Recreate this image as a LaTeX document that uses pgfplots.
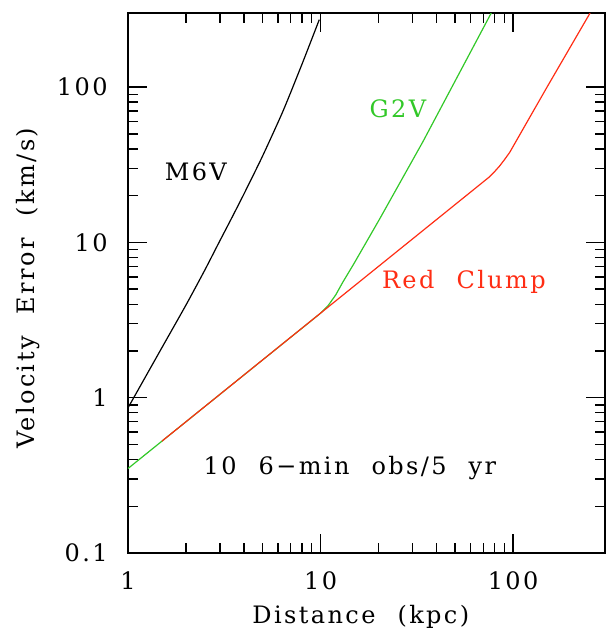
\documentclass[12pt,border=0pt]{standalone}
\usepackage{pgfplots}
\pgfplotsset{compat=1.18}
\usepackage{fontspec}
\setmainfont[LetterSpace=10,WordSpace=2.2]{DejaVu Serif}
\definecolor{cgreen}{RGB}{50,200,40}
\definecolor{cred}{RGB}{255,45,20}
\begin{document}
\begin{tikzpicture}
\begin{axis}[
  name=ax, at={(0,0)}, anchor=south west,
  scale only axis, width=238.5pt, height=270pt,
  xmode=log, ymode=log,
  xmin=1, xmax=300, ymin=0.1, ymax=300,
  log ticks with fixed point,
  /pgf/number format/assume math mode=true,
  major tick length=9.5pt, minor tick length=5pt,
  tick align=inside,
  tick style={black, line width=0.7pt},
  axis line style={line width=0.75pt},
  yticklabel style={xshift=-6pt},
  xticklabel style={yshift=-5pt},
  xlabel={Distance (kpc)},
  ylabel={Velocity Error (km/s)},
  xlabel style={at={(axis description cs:0.488,0)}, anchor=base, yshift=-35pt},
  ylabel style={at={(axis description cs:-0.2096,0.49)}, anchor=center},
]
\addplot[black, line width=0.6pt, smooth, tension=0.4] coordinates {
(1,0.86) (1.5,2.1) (2,3.95) (2.5,6.6) (2.97,10) (3.44,14.2) (4,20.5) (5,36) (6.38,70) (8,140) (9.85,272)
};
\addplot[cgreen, line width=0.6pt] coordinates {
(1,0.35) (10,3.5) (11,3.95) (12,4.6) (13,5.5) (15,7.4) (20.3,14.2) (34,44.5) (48.7,103) (77,300)
};
\addplot[cred, line width=0.6pt] coordinates {
(1.5,0.525) (75,26.3) (80,28.5) (85,31) (90,34) (96,38) (150,100) (251,300)
};
\node[black] at (axis cs:2.25,28.6) {M6V};
\node[cgreen] at (axis cs:25.2,73) {G2V};
\node[cred] at (axis cs:55.5,5.55) {Red Clump};
\node[black] at (axis cs:14.2,0.353) {10 6−min obs/5 yr};
\end{axis}
\pgfresetboundingbox
\path[use as bounding box] (-64pt,-40.5pt) rectangle (238.9pt,276.5pt);
\end{tikzpicture}
\end{document}
